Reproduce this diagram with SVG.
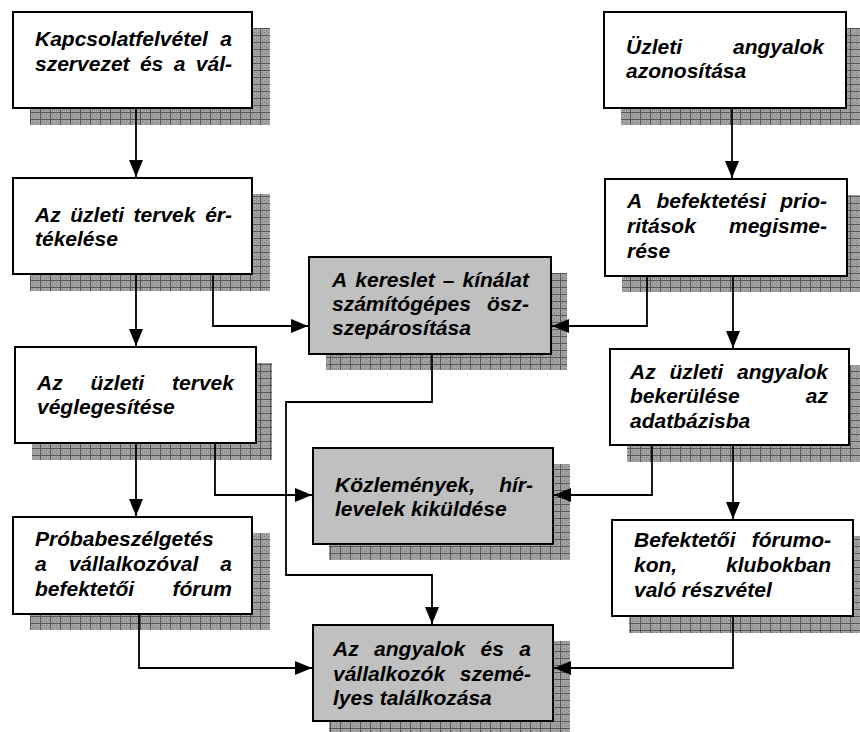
<svg xmlns="http://www.w3.org/2000/svg" width="860" height="732" viewBox="0 0 860 732">
<defs>
<pattern id="grid" patternUnits="userSpaceOnUse" width="10" height="7">
<rect width="10" height="7" fill="#a4a4a4"/>
<rect x="2" y="2" width="1" height="1" fill="#7a7a7a"/>
<rect x="4" y="4" width="1" height="1" fill="#7a7a7a"/>
<rect x="6" y="2" width="1" height="1" fill="#7a7a7a"/>
<rect x="8" y="4" width="1" height="1" fill="#7a7a7a"/>
<rect x="2" y="5" width="1" height="1" fill="#7a7a7a"/>
<rect x="6" y="5" width="1" height="1" fill="#7a7a7a"/>
<rect x="0" y="0" width="10" height="1" fill="#555"/>
<rect x="0" y="0" width="1" height="7" fill="#555"/>
</pattern>
<marker id="arr" markerUnits="userSpaceOnUse" markerWidth="17" markerHeight="14" refX="17" refY="7" orient="auto">
<path d="M0,0 L17,7 L0,14 z" fill="#000"/>
</marker>
</defs>
<style>
.sh{fill:url(#grid);}
.bw{fill:#fff;stroke:#000;stroke-width:2;}
.bg{fill:#c0c0c0;stroke:#000;stroke-width:2;}
.t{font-family:"Liberation Sans",Arial,sans-serif;font-weight:bold;font-style:italic;font-size:21px;fill:#000;}
.ca{fill:none;stroke:#000;stroke-width:1.8;marker-end:url(#arr);}
</style>

<g id="n1">
<rect class="sh" x="30" y="28" width="240" height="97"/>
<rect class="bw" x="13" y="12" width="239" height="96"/>
<text class="t"><tspan x="35" y="46">Kapcsolatfelvétel</tspan><tspan x="220.3" y="46">a</tspan><tspan x="35" y="71">szervezet</tspan><tspan x="139.9" y="71">és</tspan><tspan x="173.7" y="71">a</tspan><tspan x="195.8" y="71">vál-</tspan></text>
</g>

<g id="n2">
<rect class="sh" x="621" y="28" width="242" height="97"/>
<rect class="bw" x="604" y="12" width="242" height="96"/>
<text class="t"><tspan x="626" y="54">Üzleti</tspan><tspan x="733" y="54">angyalok</tspan><tspan x="626" y="78">azonosítása</tspan></text>
</g>

<g id="n3">
<rect class="sh" x="30" y="194" width="240" height="97"/>
<rect class="bw" x="13" y="178" width="239" height="96"/>
<text class="t"><tspan x="35" y="222">Az</tspan><tspan x="70.3" y="222">üzleti</tspan><tspan x="133.6" y="222">tervek</tspan><tspan x="205.2" y="222">ér-</tspan><tspan x="35" y="246">tékelése</tspan></text>
</g>

<g id="n4">
<rect class="sh" x="326" y="273" width="241" height="97"/>
<rect class="bg" x="309" y="257" width="242" height="97"/>
<text class="t"><tspan x="332" y="287">A</tspan><tspan x="355.3" y="287">kereslet</tspan><tspan x="442.7" y="287">–</tspan><tspan x="462.5" y="287">kínálat</tspan><tspan x="332" y="311">számítógépes</tspan><tspan x="487" y="311">ösz-</tspan><tspan x="332" y="335">szepárosítása</tspan></text>
</g>

<g id="n5">
<rect class="sh" x="622" y="195" width="242" height="97"/>
<rect class="bw" x="605" y="179" width="242" height="97"/>
<text class="t"><tspan x="627" y="208">A</tspan><tspan x="656.4" y="208">befektetési</tspan><tspan x="780.3" y="208">prio-</tspan><tspan x="627" y="233">ritások</tspan><tspan x="729" y="233">megisme-</tspan><tspan x="627" y="258">rése</tspan></text>
</g>

<g id="n6">
<rect class="sh" x="32" y="363" width="240" height="97"/>
<rect class="bw" x="15" y="347" width="241" height="96"/>
<text class="t"><tspan x="37" y="390">Az</tspan><tspan x="90.5" y="390">üzleti</tspan><tspan x="172.1" y="390">tervek</tspan><tspan x="37" y="414">véglegesítése</tspan></text>
</g>

<g id="n7">
<rect class="sh" x="627" y="365" width="240" height="97"/>
<rect class="bw" x="610" y="349" width="239" height="96"/>
<text class="t"><tspan x="630" y="379">Az</tspan><tspan x="669.5" y="379">üzleti</tspan><tspan x="737" y="379">angyalok</tspan><tspan x="630" y="403">bekerülése</tspan><tspan x="805.8" y="403">az</tspan><tspan x="630" y="428">adatbázisba</tspan></text>
</g>

<g id="n8">
<rect class="sh" x="329" y="464" width="241" height="96"/>
<rect class="bg" x="313" y="448" width="240" height="96"/>
<text class="t"><tspan x="335" y="492">Közlemények,</tspan><tspan x="499.2" y="492">hír-</tspan><tspan x="335" y="516">levelek kiküldése</tspan></text>
</g>

<g id="n9">
<rect class="sh" x="30" y="533" width="240" height="97"/>
<rect class="bw" x="13" y="517" width="239" height="97"/>
<text class="t"><tspan x="35" y="546">Próbabeszélgetés</tspan><tspan x="35" y="571">a</tspan><tspan x="68.7" y="571">vállalkozóval</tspan><tspan x="220.3" y="571">a</tspan><tspan x="35" y="596">befektetői</tspan><tspan x="172.5" y="596">fórum</tspan></text>
</g>

<g id="n10">
<rect class="sh" x="629" y="536" width="241" height="97"/>
<rect class="bw" x="612" y="520" width="241" height="96"/>
<text class="t"><tspan x="634" y="547">Befektetői</tspan><tspan x="751.7" y="547">fórumo-</tspan><tspan x="634" y="572">kon,</tspan><tspan x="726" y="572">klubokban</tspan><tspan x="634" y="597">való részvétel</tspan></text>
</g>

<g id="n11">
<rect class="sh" x="329" y="641" width="241" height="97"/>
<rect class="bg" x="313" y="625" width="240" height="96"/>
<text class="t"><tspan x="333" y="656">Az</tspan><tspan x="374.1" y="656">angyalok</tspan><tspan x="480.5" y="656">és</tspan><tspan x="519.3" y="656">a</tspan><tspan x="333" y="681">vállalkozók</tspan><tspan x="459.8" y="681">szemé-</tspan><tspan x="333" y="705">lyes találkozása</tspan></text>
</g>

<g id="connectors">
<path class="ca" d="M136,109 V177"/>
<path class="ca" d="M732,109 V178"/>
<path class="ca" d="M136,275 V346"/>
<path class="ca" d="M213,275 V326 H308"/>
<path class="ca" d="M647,277 V326 H552"/>
<path class="ca" d="M733,277 V348"/>
<path class="ca" d="M432,355 V402 H286 V575 H432 V624"/>
<path class="ca" d="M136,444 V516"/>
<path class="ca" d="M215,444 V495 H312"/>
<path class="ca" d="M652,446 V495 H554"/>
<path class="ca" d="M733,446 V519"/>
<path class="ca" d="M139,615 V668 H312"/>
<path class="ca" d="M733,617 V668 H554"/>
</g>
</svg>
